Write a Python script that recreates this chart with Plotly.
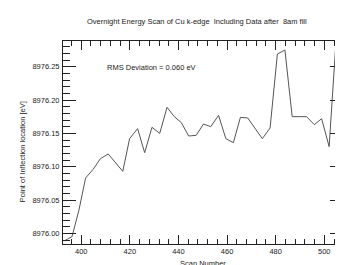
import plotly.graph_objects as go

scan = [393.2, 396.2, 399.0, 401.8, 404.9, 407.9, 411.1, 414.1, 417.1, 419.9,
        423.2, 426.1, 429.1, 432.3, 435.3, 438.3, 441.2, 444.2, 447.3, 450.3,
        453.3, 456.5, 459.5, 462.6, 465.5, 468.5, 471.5, 474.5, 477.7, 480.7,
        483.8, 486.8, 489.7, 492.7, 495.9, 498.9, 502.0, 504.8, 507.6]
energy = [8975.989, 8975.995, 8976.034, 8976.083, 8976.096, 8976.112, 8976.119, 8976.106, 8976.093, 8976.142,
          8976.157, 8976.121, 8976.159, 8976.150, 8976.189, 8976.175, 8976.166, 8976.146, 8976.147, 8976.164,
          8976.160, 8976.177, 8976.142, 8976.136, 8976.174, 8976.173, 8976.157, 8976.142, 8976.158, 8976.269,
          8976.275, 8976.175, 8976.175, 8976.175, 8976.163, 8976.172, 8976.130, 8976.287, 8976.190]

title_text = "Overnight Energy Scan of Cu k-edge  Including Data after  8am fill"
xlabel = "Scan Number"
ylabel = "Point of Inflection location [eV]"
note = "RMS Deviation = 0.060 eV"

FONT = "Liberation Sans, Arial, Helvetica, sans-serif"
INK = "#222222"

fig = go.Figure()
fig.add_trace(go.Scatter(x=scan, y=energy, mode="lines",
                         line=dict(color="#555555", width=1), showlegend=False))

fig.update_layout(
    width=335, height=257,
    margin=dict(l=55, r=0, t=33, b=21),
    paper_bgcolor="white", plot_bgcolor="white",
    font=dict(family=FONT, size=7.5, color=INK),
)
fig.update_xaxes(
    range=[392.5, 507.7], tick0=400, dtick=20, ticks="inside", ticklen=9,
    tickcolor=INK, tickwidth=1, mirror="ticks", showline=True,
    linecolor=INK, linewidth=1, showgrid=False, zeroline=False,
    minor=dict(dtick=4, ticks="inside", ticklen=5, tickcolor=INK, showgrid=False),
    tickfont=dict(size=7.5, color=INK), automargin=False,
)
fig.update_yaxes(
    range=[8975.984, 8976.2885], tick0=8976.0, dtick=0.05, tickformat=".2f",
    ticks="inside", ticklen=13, tickcolor=INK, tickwidth=1, mirror="ticks",
    showline=True, linecolor=INK, linewidth=1, showgrid=False, zeroline=False,
    minor=dict(dtick=0.01, ticks="inside", ticklen=7, tickcolor=INK, showgrid=False),
    tickfont=dict(size=7.5, color=INK), automargin=False, ticklabelstandoff=1,
)

fig.add_annotation(text=title_text, xref="paper", yref="paper", x=0.4775, y=1.095,
                   xanchor="center", yanchor="middle", showarrow=False, font=dict(size=7.5, color=INK))
fig.add_annotation(text=xlabel, xref="paper", yref="paper", x=0.5, y=-0.094,
                   xanchor="center", yanchor="middle", showarrow=False, font=dict(size=7.5, color=INK))
fig.add_annotation(text=ylabel, xref="paper", yref="paper", x=-0.1446, y=0.455,
                   xanchor="center", yanchor="middle", textangle=-90, showarrow=False,
                   font=dict(size=7.5, color=INK))
fig.add_annotation(text=note, xref="x", yref="y", x=409.7, y=8976.249,
                   xanchor="left", yanchor="middle", showarrow=False, font=dict(size=7.5, color=INK))

fig.write_html("out.html")
